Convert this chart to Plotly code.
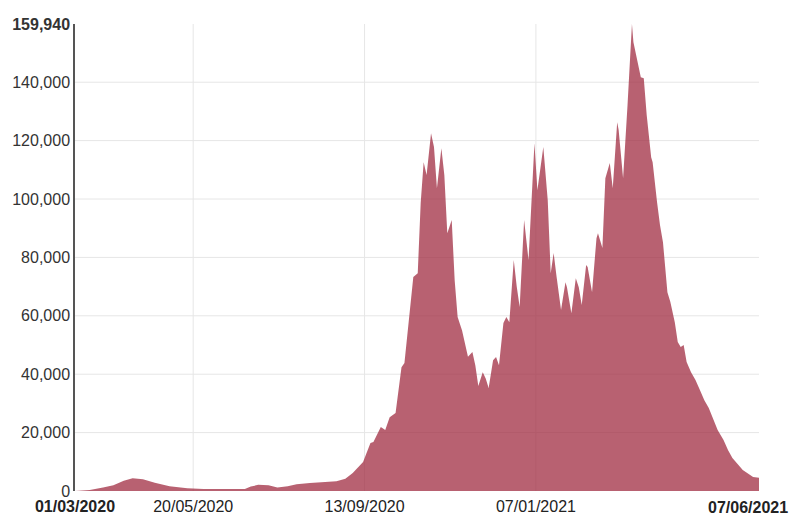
import pandas as pd
import plotly.graph_objects as go

start_date = "2020-03-01"
day_offsets = [0, 4, 10, 19, 26, 33, 39, 46, 54, 64, 76, 87, 102, 115, 119, 124, 131, 137,
               144, 150, 159, 168, 177, 183, 188, 195, 200, 202, 207, 210, 213, 217, 221, 223,
               227, 229, 232, 234, 236, 238, 241, 243, 245, 248, 250, 252, 255, 257, 259, 262,
               266, 269, 271, 273, 276, 278, 280, 283, 285, 287, 290, 292, 294, 297, 299, 301,
               304, 307, 311, 313, 317, 320, 322, 324, 326, 329, 332, 333, 336, 339, 341, 343,
               346, 347, 350, 353, 354, 357, 359, 362, 364, 367, 368, 371, 374, 376, 377, 378,
               380, 383, 385, 387, 390, 391, 394, 396, 398, 400, 401, 403, 406, 408, 410, 412,
               414, 417, 420, 423, 426, 429, 432, 435, 439, 442, 445, 449, 452, 456, 459, 463]
values = [0, 100, 300, 1200, 2000, 3500, 4400, 4000, 2800, 1600, 900, 650, 600, 700, 1500, 2100, 2000, 1200,
          1600, 2300, 2700, 2900, 3300, 4200, 6200, 9900, 16400, 16800, 21900, 20900, 25300, 26700, 42400, 43800,
          63000, 73300, 74600, 98600, 112600, 108200, 122500, 117800, 103700, 117400, 108200, 88300, 92800, 72200, 59600, 55000,
          46000, 47600, 43000, 36000, 40700, 38500, 35300, 44800, 45900, 43100, 57500, 59600, 57800, 79100, 70000, 63000,
          92800, 79100, 119100, 103000, 117800, 99600, 74600, 81500, 73300, 62000, 71500, 69800, 60900, 72900, 69800, 63700,
          77400, 76700, 68100, 86600, 88300, 83200, 107100, 112300, 103700, 126300, 123600, 107100, 132100, 153700, 159940, 153700,
          149200, 141700, 141400, 128700, 114300, 112600, 98900, 91000, 85200, 74000, 68100, 64700, 57800, 51000, 49300, 50000,
          44200, 40700, 38000, 34600, 31100, 28400, 24300, 20900, 17500, 14000, 11300, 8900, 7200, 5800, 4800, 4500]

x_tick_dates = ["2020-03-01", "2020-05-20", "2020-09-13", "2021-01-07"]
x_tick_labels = ["<b>01/03/2020</b>", "20/05/2020", "13/09/2020", "07/01/2021"]
end_date = "2021-06-07"
end_label = "<b>07/06/2021</b>"
y_tick_vals = [0, 20000, 40000, 60000, 80000, 100000, 120000, 140000, 159940]
y_tick_labels = ["0", "20,000", "40,000", "60,000", "80,000", "100,000", "120,000", "140,000", "<b>159,940</b>"]

dates = pd.Timestamp(start_date) + pd.to_timedelta(day_offsets, unit="D")

fig = go.Figure()
fig.add_trace(go.Scatter(
    x=dates, y=values, mode="lines", fill="tozeroy",
    line=dict(width=0, color="rgba(160,44,66,0.75)"),
    fillcolor="rgba(160,44,66,0.75)", hoverinfo="x+y",
))

grid = "#e6e6e6"
shapes = []
for d in x_tick_dates[1:]:
    shapes.append(dict(type="line", xref="x", yref="paper", x0=d, x1=d, y0=0, y1=1,
                       line=dict(color=grid, width=1), layer="below"))
for v in y_tick_vals[1:-1]:
    shapes.append(dict(type="line", xref="paper", yref="y", x0=0, x1=1, y0=v, y1=v,
                       line=dict(color=grid, width=1), layer="below"))

fig.add_annotation(
    x=end_date, y=0, xref="x", yref="paper", text=end_label, showarrow=False,
    xanchor="right", yanchor="top", xshift=31, yshift=-6,
    font=dict(size=16, color="#222222", family="Liberation Sans, Arial, sans-serif"),
)

fig.update_layout(
    width=791, height=507,
    margin=dict(l=67, r=40, t=16, b=24),
    paper_bgcolor="white", plot_bgcolor="white",
    showlegend=False,
    font=dict(family="Liberation Sans, Arial, sans-serif", size=15, color="#333333"),
    shapes=shapes,
    xaxis=dict(
        range=[pd.Timestamp(start_date), pd.Timestamp(end_date)],
        tickmode="array", tickvals=x_tick_dates, ticktext=x_tick_labels,
        showgrid=False, zeroline=False, showline=False,
        ticks="outside", ticklen=1, tickcolor="rgba(0,0,0,0)",
        ticklabeloverflow="allow",
        automargin=False, tickfont=dict(size=16, color="#222222"),
    ),
    yaxis=dict(
        range=[0, 159940],
        tickmode="array", tickvals=y_tick_vals, ticktext=y_tick_labels,
        showgrid=False, zeroline=False, showline=True, linecolor="#555555", linewidth=1.5,
        ticks="", automargin=False, tickfont=dict(size=16, color="#333333"),
    ),
)

fig.write_html("out.html")
